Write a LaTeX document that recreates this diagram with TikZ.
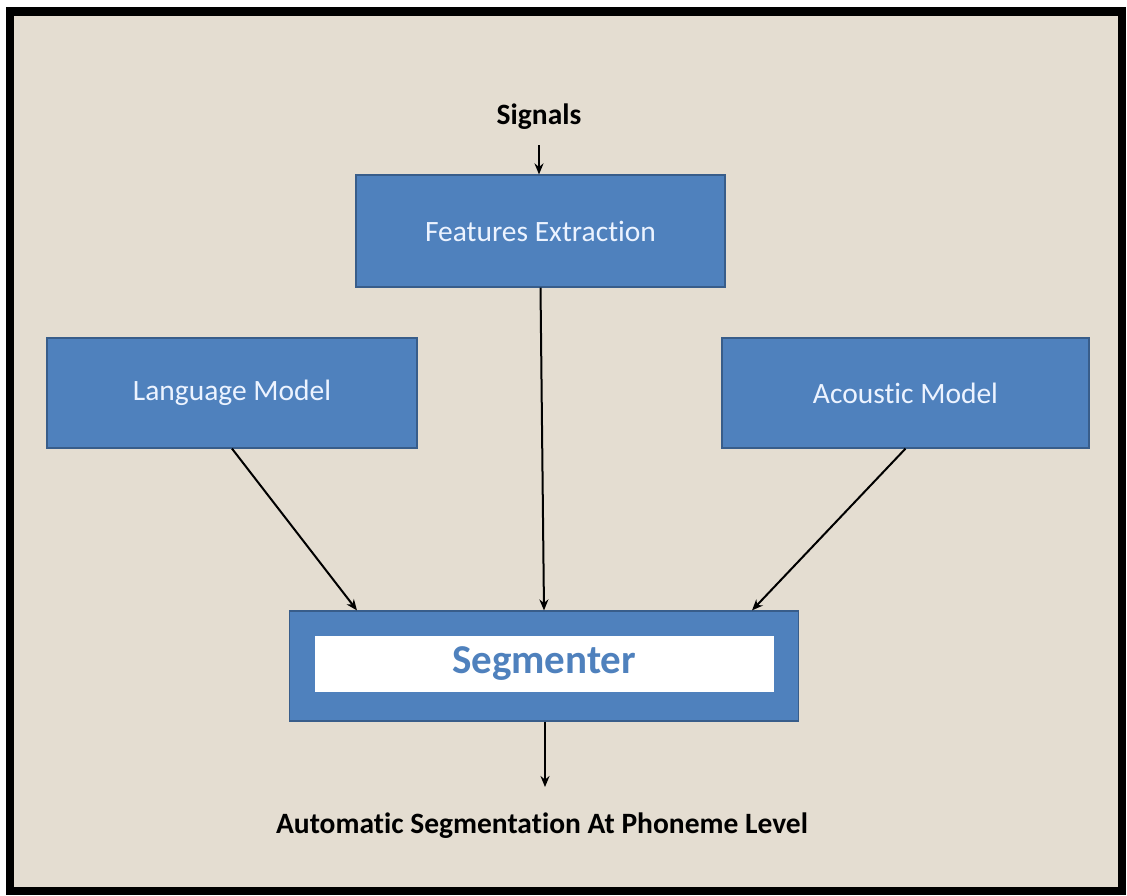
\documentclass[tikz,border=0pt]{standalone}
\usepackage{fontspec}
\setmainfont{Carlito}[Ligatures=NoCommon]
\usetikzlibrary{arrows.meta}
\definecolor{paper}{RGB}{228,221,209}
\definecolor{boxfill}{RGB}{79,129,189}
\definecolor{boxedge}{RGB}{56,93,138}
\definecolor{boxtext}{RGB}{236,243,255}
\tikzset{
  block/.style={draw=boxedge, line width=1.2pt, fill=boxfill, text=boxtext,
    font=\fontsize{29.5}{34}\selectfont, inner sep=0pt},
  flow/.style={line width=2pt, -{Stealth[length=11pt,width=9pt]}},
  caption/.style={font=\bfseries\fontsize{29.5}{34}\selectfont, text=black, inner sep=0pt}
}
\begin{document}
\begin{tikzpicture}[x=1pt,y=-1pt]
  % page and frame
  \fill[white] (0,0) rectangle (1127,895);
  \useasboundingbox (0,0) rectangle (1127,895);
  \fill[paper] (10,11.5) rectangle (1122,891);
  \draw[black, line width=8.5pt] (10,11.5) rectangle (1122,891);

  % blocks
  \node[block, minimum width=369pt, minimum height=112pt] (fe) at (540.5,231) {Features Extraction};
  \node[block, minimum width=370pt, minimum height=110pt] (lm) at (232,393) {Language Model};
  \node[block, minimum width=367pt, minimum height=110pt] (am) at (905.5,393) {Acoustic Model};
  \node[block, minimum width=509pt, minimum height=110pt] (seg) at (544,666) {};
  \node[fill=white, minimum width=459pt, minimum height=56pt, inner sep=0pt,
        text=boxfill, font=\bfseries\fontsize{41}{46}\selectfont] (segtxt) at (544,664) {Segmenter};

  % input and output labels
  \node[caption] (sig) at (539,117) {Signals};
  \node[caption] (out) at (542,826) {Automatic Segmentation At Phoneme Level};
  \coordinate (sigfoot) at (539,145);
  \coordinate (outhead) at (545,787);

  % connectors
  \draw[flow] (sigfoot) -- (fe.north -| sigfoot);
  \draw[flow] (fe.south) -- (seg.north);
  \draw[flow] (lm.south) -- ([xshift=-187pt]seg.north);
  \draw[flow] (am.south) -- ([xshift=208pt]seg.north);
  \draw[flow] (seg.south -| outhead) -- (outhead);
\end{tikzpicture}
\end{document}
